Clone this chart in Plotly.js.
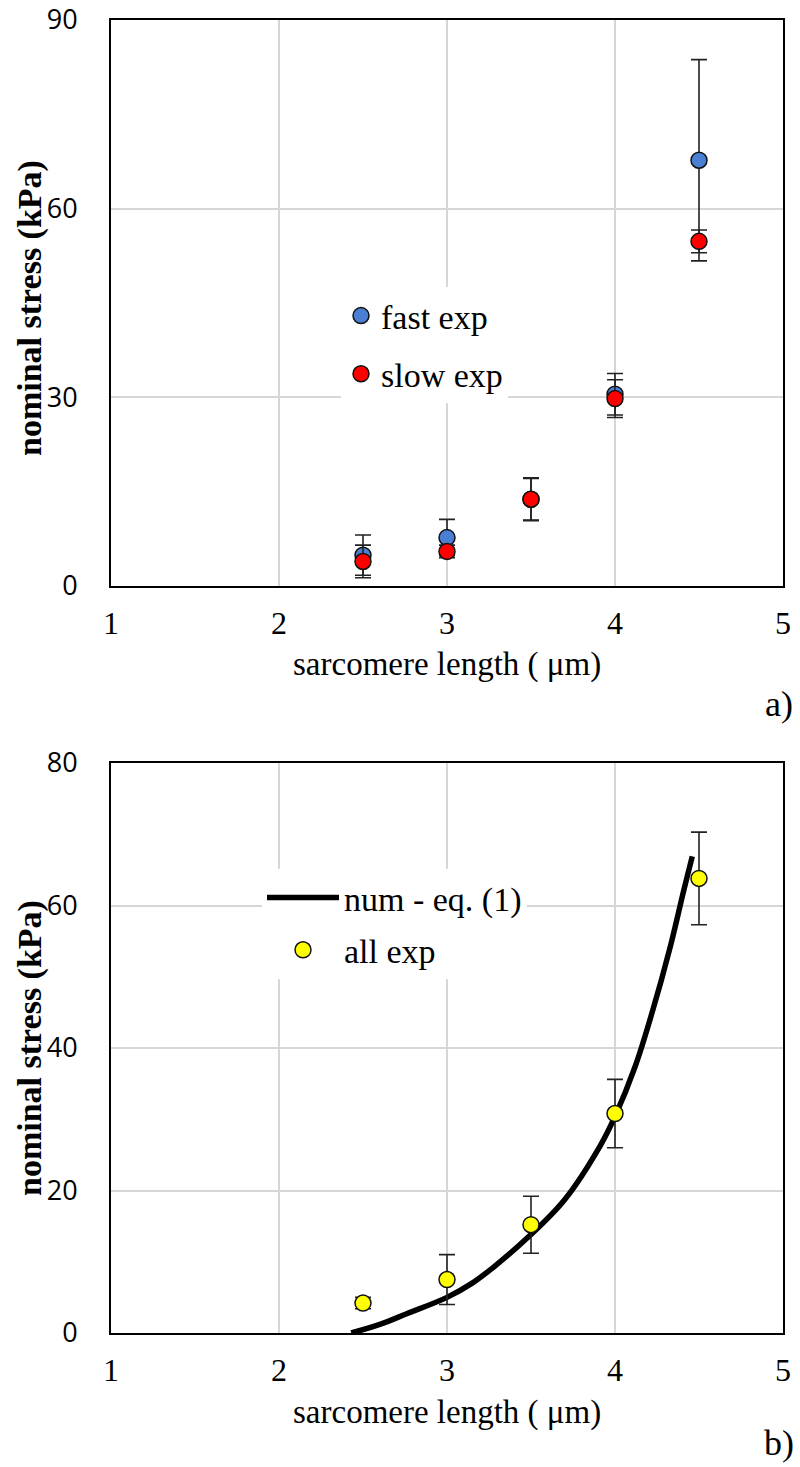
<!DOCTYPE html>
<html>
<head>
<meta charset="utf-8">
<script src="https://cdn.plot.ly/plotly-3.0.1.min.js"></script>
<style>html,body{margin:0;padding:0;background:#fff;}#chart{width:800px;height:1467px;}</style>
</head>
<body>
<div id="chart"></div>
<script>
// ---- data ----
const sarcomereLength = [2.5, 3.0, 3.5, 4.0, 4.5];

const fastStress = [4.9, 7.7, 13.8, 30.5, 67.7];
const fastErr    = [3.2, 2.9, 3.3, 3.3, 16.0];

const slowStress = [3.9, 5.5, 13.8, 29.8, 54.8];
const slowErr    = [2.6, 1.0, 3.4, 3.0, 1.8];

const allStress = [4.2, 7.5, 15.2, 30.8, 63.8];
const allErr    = [0.8, 3.5, 4.0, 4.8, 6.5];

const numX = [2.43, 2.6, 2.76, 3.0, 3.15, 3.285, 3.49, 3.70, 3.91, 4.0, 4.12, 4.22, 4.33, 4.41, 4.46];
const numY = [0, 1.2, 2.7, 5.0, 7.0, 9.4, 13.6, 18.7, 26.2, 30.4, 37.4, 44.9, 54.3, 62.2, 66.9];

const xTicks = [1, 2, 3, 4, 5];
const yTicksA = [0, 30, 60, 90];
const yTicksB = [0, 20, 40, 60, 80];

const xTitle = 'sarcomere length ( \u03bcm)';
const yTitle = 'nominal stress (kPa)';

// ---- styling ----
const SERIF = 'Liberation Serif, Times New Roman, serif';
const SANS = 'Open Sans, Noto Sans, sans-serif';
const markerLine = {color: '#111', width: 1.5};
const errStyle = {thickness: 1.6, width: 8, color: '#222'};

const traces = [
  {x: sarcomereLength, y: fastStress, name: 'fast exp', type: 'scatter', mode: 'markers',
   xaxis: 'x', yaxis: 'y', legend: 'legend', legendgroup: 'a1',
   marker: {size: 16, color: '#4a7fd4', line: markerLine},
   error_y: Object.assign({type: 'data', array: fastErr, visible: true}, errStyle)},
  {x: sarcomereLength, y: slowStress, name: 'slow exp', type: 'scatter', mode: 'markers',
   xaxis: 'x', yaxis: 'y', legend: 'legend', legendgroup: 'a2',
   marker: {size: 16, color: '#ff0000', line: markerLine},
   error_y: Object.assign({type: 'data', array: slowErr, visible: true}, errStyle)},
  {x: numX, y: numY, name: 'num - eq. (1)', type: 'scatter', mode: 'lines',
   xaxis: 'x2', yaxis: 'y2', legend: 'legend2', legendgroup: 'b1',
   line: {color: '#000', width: 5.5, shape: 'spline', smoothing: 1}},
  {x: sarcomereLength, y: allStress, name: 'all exp', type: 'scatter', mode: 'markers',
   xaxis: 'x2', yaxis: 'y2', legend: 'legend2', legendgroup: 'b2',
   marker: {size: 16, color: '#ffff00', line: markerLine},
   error_y: Object.assign({type: 'data', array: allErr, visible: true}, errStyle)}
];

function xAxis(anchor) {
  return {
    domain: [111/800, 783/800], anchor: anchor, range: [1, 5],
    tickvals: xTicks, ticktext: xTicks.map(String),
    showgrid: true, gridcolor: '#d6d6d6', gridwidth: 2,
    showline: true, linecolor: '#000', linewidth: 2, mirror: true,
    zeroline: false, ticks: '', ticklabelstandoff: 8, ticklabeloverflow: 'allow',
    tickfont: {family: SERIF, size: 32, color: '#000'},
    fixedrange: true
  };
}
function yAxis(anchor, dom, rng, ticks) {
  return {
    domain: dom, anchor: anchor, range: rng,
    tickvals: ticks, ticktext: ticks.map(String),
    showgrid: true, gridcolor: '#d6d6d6', gridwidth: 2,
    showline: true, linecolor: '#000', linewidth: 2, mirror: true,
    zeroline: false, ticks: '', ticklabelstandoff: 26, ticklabeloverflow: 'allow',
    tickfont: {family: SANS, size: 27, color: '#000'},
    fixedrange: true
  };
}

const H = 1467;
const titleFont = {family: SERIF, size: 33, color: '#000'};
const yTitleFont = {family: SERIF, size: 34, color: '#000', weight: 'bold'};
function ann(text, x, y, font, angle) {
  return {text: text, xref: 'paper', yref: 'paper', x: x/800, y: (H-y)/H,
    xanchor: 'center', yanchor: 'middle', showarrow: false, font: font, textangle: angle || 0};
}

const layout = {
  width: 800, height: H,
  margin: {l: 0, r: 0, t: 0, b: 0},
  paper_bgcolor: '#fff', plot_bgcolor: '#fff',
  showlegend: true,
  xaxis: xAxis('y'),
  yaxis: yAxis('x', [(H-586)/H, (H-20)/H], [0, 90], yTicksA),
  xaxis2: xAxis('y2'),
  yaxis2: yAxis('x2', [(H-1333)/H, (H-763)/H], [0, 80], yTicksB),
  legend: {x: 341/800, y: (H-287)/H, xanchor: 'left', yanchor: 'top',
    bgcolor: '#fff', borderwidth: 0, tracegroupgap: 11,
    font: {family: SERIF, size: 34, color: '#000'}},
  legend2: {x: 262/800, y: (H-869)/H, xanchor: 'left', yanchor: 'top',
    bgcolor: '#fff', borderwidth: 0, tracegroupgap: 5, itemwidth: 72,
    font: {family: SERIF, size: 34, color: '#000'}},
  annotations: [
    ann(xTitle, 447, 664, titleFont),
    ann(xTitle, 447, 1412, titleFont),
    ann(yTitle, 30, 308, yTitleFont, -90),
    ann(yTitle, 30, 1048, yTitleFont, -90),
    ann('a)', 779, 704, {family: SERIF, size: 36, color: '#000'}),
    ann('b)', 779, 1443, {family: SERIF, size: 36, color: '#000'})
  ]
};

Plotly.newPlot('chart', traces, layout, {staticPlot: true, displayModeBar: false});
</script>
</body>
</html>
